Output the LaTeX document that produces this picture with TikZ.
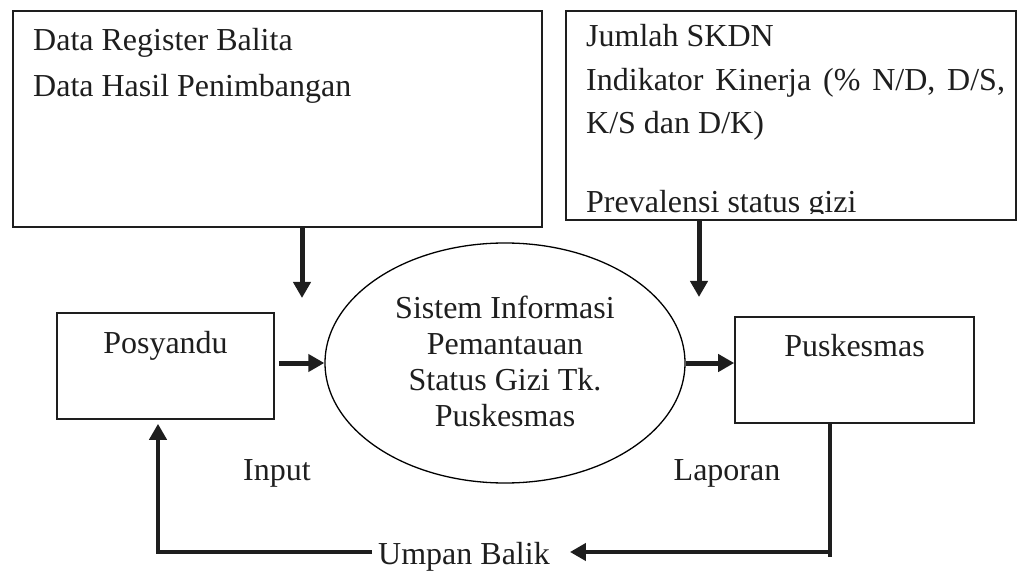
\documentclass[tikz,border=0pt]{standalone}
\usepackage{fontspec}
\setmainfont{Liberation Serif}
\usetikzlibrary{arrows.meta,shapes.geometric,calc}
\definecolor{ink}{HTML}{1E1E1E}
\begin{document}
\begin{tikzpicture}[x=1pt,y=-1pt,
  every node/.style={text=ink,font=\fontsize{32}{36}\selectfont},
  box/.style={draw=ink,line width=1.6pt,rectangle,inner sep=0pt},
  txt/.style={inner sep=0pt,anchor=base west},
  ctxt/.style={inner sep=0pt,anchor=base},
  thick arrow/.style={draw=ink,line width=5pt,-{Triangle[length=16pt,width=17pt]}},
  fbline/.style={draw=ink,line width=4.5pt}]
\useasboundingbox (0,0) rectangle (1018,572);
% top boxes
\node[box,minimum width=529pt,minimum height=216pt] (topL) at (277.5,119) {};
\node[box,minimum width=450pt,minimum height=209pt] (topR) at (791,115.5) {};
\node[txt] (tl1) at (33,50.7) {Data Register Balita};
\node[txt] (tl2) at (33,96.7) {Data Hasil Penimbangan};
\node[txt] (tr1) at (586,46.7) {Jumlah SKDN};
\node[txt] (tr2) at (586,90.7) {Indikator\hspace{0.12em} Kinerja\hspace{0.12em} (\%\hspace{0.12em} N/D,\hspace{0.12em} D/S,};
\node[txt] (tr3) at (586,134) {K/S dan D/K)};
\begin{scope}
  \clip (570,150) rectangle (1012,214);
  \node[txt] (tr4) at (586,213) {Prevalensi status gizi};
\end{scope}
% middle
\node[draw=black,line width=1.3pt,ellipse,minimum width=360pt,minimum height=240pt,inner sep=0pt] (sis) at (505,363) {};
\node[inner sep=0pt,align=center] (sistxt) at (505,361) {Sistem Informasi\\Pemantauan\\Status Gizi Tk.\\Puskesmas};
\node[box,minimum width=217pt,minimum height=106pt] (posy) at (165.5,366) {};
\node[ctxt] (posytxt) at (165.5,353) {Posyandu};
\node[box,minimum width=239pt,minimum height=106pt] (pusk) at (854.5,370) {};
\node[ctxt] (pusktxt) at (854.5,356) {Puskesmas};
\node[ctxt] (input) at (277,480) {Input};
\node[ctxt] (lapor) at (727,480) {Laporan};
\node[txt,inner xsep=6pt] (umpan) at (372,564) {Umpan Balik};
% coordinates
\coordinate (a1) at (302,298);
\coordinate (a2) at (699,297);
\coordinate (fbR) at (830,552);
\coordinate (fbL) at (158,552);
% arrows
\draw[thick arrow] (topL.south -| a1) -- (a1);
\draw[thick arrow] (topR.south -| a2) -- (a2);
\draw[thick arrow] ($(posy.east |- sis.west)+(4,0)$) -- (sis.west);
\draw[thick arrow] (sis.east) -- (sis.east -| pusk.west);
\draw[fbline,line width=4pt] (pusk.south -| fbR) -- ([yshift=-5pt]fbR);
\draw[thick arrow,line width=4.5pt] (fbR) -- ($(umpan.east |- fbR)+(14,0)$);
\draw[thick arrow,line width=4.5pt] (umpan.west |- fbL) -- (fbL) -- ([yshift=-4pt]posy.south -| fbL);
\end{tikzpicture}
\end{document}
